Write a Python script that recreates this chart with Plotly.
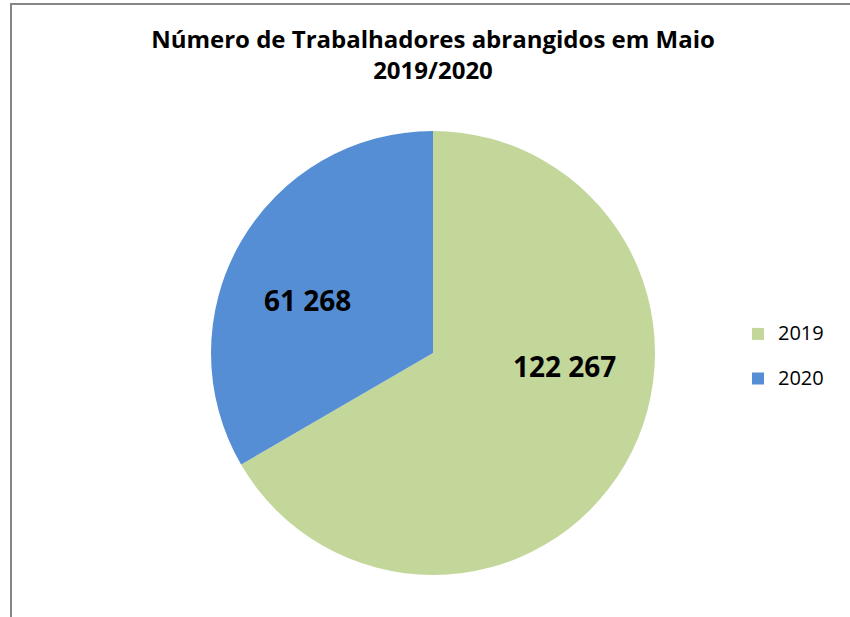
import plotly.graph_objects as go

labels = ["2019", "2020"]
values = [122267, 61268]
colors = ["#C4D79B", "#558ED5"]
title_lines = ["Número de Trabalhadores abrangidos em Maio", "2019/2020"]

W, H = 850, 617
FONT = "Open Sans"

def fmt(v):
    return f"{v:,}".replace(",", " ")

def px(X):
    return X / W

def py(Y):
    return 1 - Y / H

# legend entries padded with an empty line to reproduce the wide spacing
legend_labels = [f"<span style='font-size:20px'>{l}</span><br>&nbsp;" for l in labels]

fig = go.Figure()
R = 222
cx, cy = 433, 353
fig.add_trace(go.Pie(
    labels=legend_labels, values=values, sort=False, direction="clockwise", rotation=0,
    marker=dict(colors=colors, line=dict(width=0)),
    textinfo="none", hovertext=labels, hoverinfo="text+value",
    domain=dict(x=[px(cx - R), px(cx + R)], y=[py(cy + R), py(cy - R)]),
))

# value labels
label_pos = [(564, 366), (262, 300)]
for v, (x, y) in zip(values, label_pos):
    fig.add_annotation(x=px(x), y=py(y), xref="paper", yref="paper", text=f"<b>{fmt(v)}</b>",
                       showarrow=False, font=dict(family=FONT, size=28, color="#000000"))

fig.add_shape(type="rect", xref="paper", yref="paper", x0=px(11), x1=1.05, y0=-0.05, y1=py(4),
              line=dict(color="#868686", width=2), fillcolor="rgba(0,0,0,0)")

fig.update_layout(
    width=W, height=H,
    margin=dict(l=0, r=0, t=0, b=0),
    paper_bgcolor="white", plot_bgcolor="white",
    title=dict(text="<b>" + "<br>".join(title_lines) + "</b>", x=px(433), xanchor="center",
               y=py(48), yanchor="top", font=dict(family=FONT, size=24, color="#000000")),
    legend=dict(x=px(738), y=py(317), xanchor="left", yanchor="top", valign="top",
                font=dict(family=FONT, size=16, color="#000000"), tracegroupgap=0),
    showlegend=True,
)
fig.write_html("out.html", config={"displayModeBar": False},
               post_script="document.body.style.margin='0';")
